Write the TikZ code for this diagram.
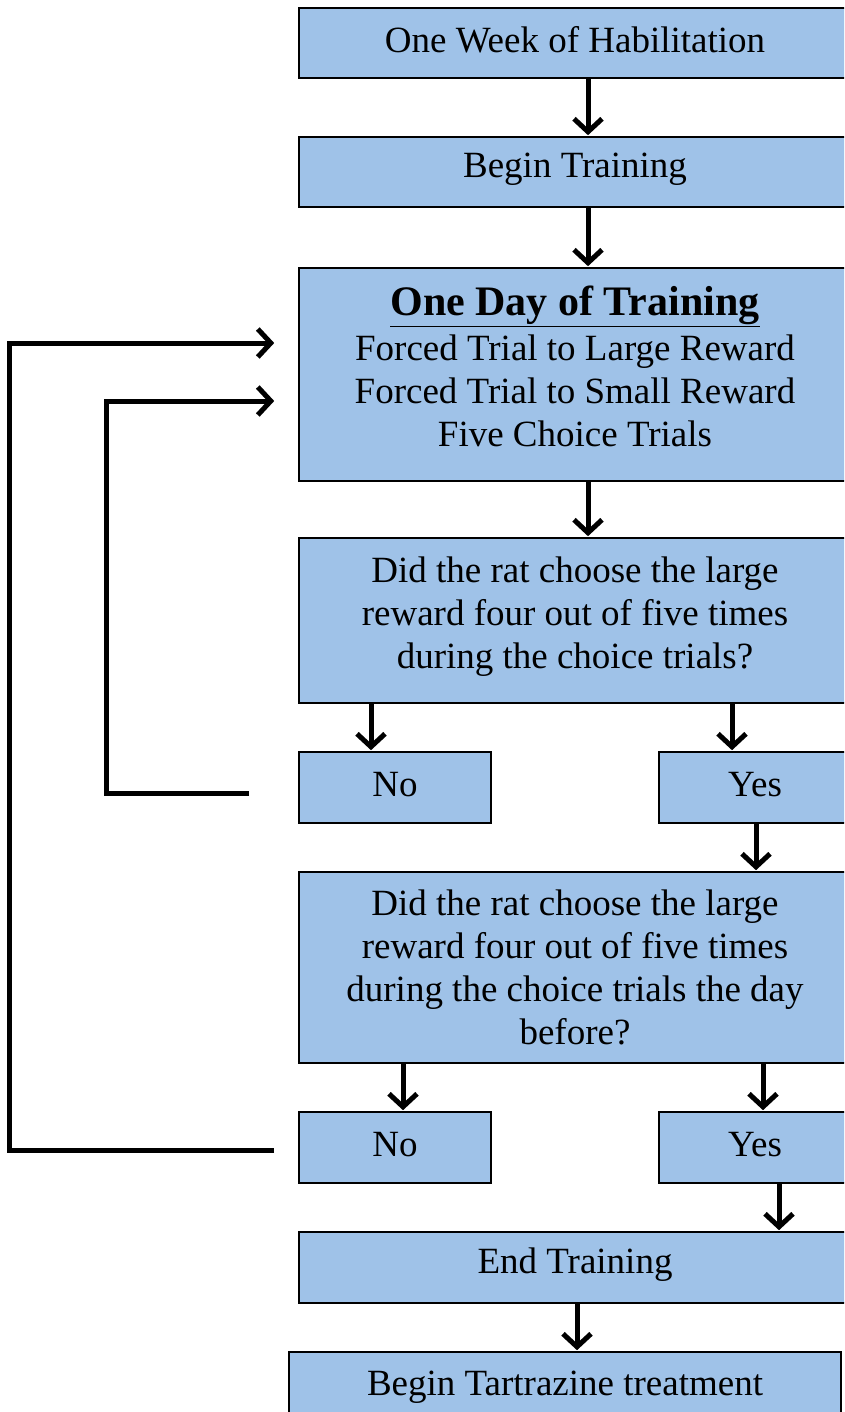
\documentclass[tikz,border=0pt]{standalone}
\usepackage{fontspec}
\setmainfont{Liberation Serif}
\usetikzlibrary{arrows.meta}
\definecolor{boxblue}{RGB}{159,194,232}
\newcommand{\up}[2][3pt]{\raisebox{#1}[\height][\depth]{#2}}
\begin{document}
\begin{tikzpicture}[x=1pt,y=-1pt,
  box/.style={draw=black,line width=1.6pt,fill=boxblue,inner sep=0pt,align=center,
    minimum width=552pt,minimum height=70pt,font=\fontsize{37}{43}\selectfont},
  small/.style={box,minimum width=192pt,minimum height=71pt},
  arr/.style={line width=5pt,-{Straight Barb[length=13pt,width=28pt,line width=5pt]},shorten >=1pt},
  fb/.style={line width=5pt,-{Straight Barb[length=13pt,width=28pt,line width=5pt]},line join=miter}]
\useasboundingbox (0,0) rectangle (844,1412);
\clip (0,0) rectangle (844,1412);
\node[box] (hab) at (575,43) {\up{One Week of Habilitation}};
\node[box] (begin) at (575,172) {\up{Begin Training}};
\node[box,minimum height=213pt] (day) at (575,374.5) {};
\node[font=\fontsize{37}{43}\selectfont,align=center] (daytext) at (575,366.5)
  {{\fontsize{42}{46}\selectfont\bfseries\underline{One Day of Training}}\\[2pt]
   Forced Trial to Large Reward\\Forced Trial to Small Reward\\Five Choice Trials};
\node[box,minimum height=165pt] (q1) at (575,620.5)
  {\up[4pt]{\begin{tabular}{@{}c@{}}Did the rat choose the large\\reward four out of five times\\during the choice trials?\end{tabular}}};
\node[small] (no1) at (395,787.5) {\up{No}};
\node[small] (yes1) at (755,787.5) {\up{Yes}};
\node[box,minimum height=191pt] (q2) at (575,967.5)
  {Did the rat choose the large\\reward four out of five times\\during the choice trials the day\\before?};
\node[small] (no2) at (395,1147.5) {\up{No}};
\node[small] (yes2) at (755,1147.5) {\up{Yes}};
\node[box,minimum height=71pt] (end) at (575,1267.5) {\up{End Training}};
\node[box,minimum height=71pt] (tart) at (565,1387.5) {Begin Tartrazine treatment};
\draw[arr] ([xshift=13pt]hab.south) -- ([xshift=13pt]begin.north);
\draw[arr] ([xshift=13pt]begin.south) -- ([xshift=13pt]day.north);
\draw[arr] ([xshift=13pt]day.south) -- ([xshift=13pt]q1.north);
\draw[arr] ([xshift=-204pt]q1.south) -- ([xshift=-24pt]no1.north);
\draw[arr] ([xshift=157pt]q1.south) -- ([xshift=-23pt]yes1.north);
\draw[arr] ([xshift=1pt]yes1.south) -- ([xshift=181pt]q2.north);
\draw[arr] ([xshift=-172pt]q2.south) -- ([xshift=8pt]no2.north);
\draw[arr] ([xshift=188pt]q2.south) -- ([xshift=8pt]yes2.north);
\draw[arr] ([xshift=24pt]yes2.south) -- ([xshift=204pt]end.north);
\draw[arr] ([xshift=2pt]end.south) -- ([xshift=12pt]tart.north);
\draw[fb] ([xshift=-24pt,yshift=-2.5pt]no2.west) -- ++(-265,0) |- ([xshift=-24pt,yshift=31.5pt]day.west);
\draw[fb] ([xshift=-49pt,yshift=-5.5pt]no1.west) -- ++(-143,0) |- ([xshift=-24pt,yshift=-26.5pt]day.west);
\end{tikzpicture}
\end{document}
